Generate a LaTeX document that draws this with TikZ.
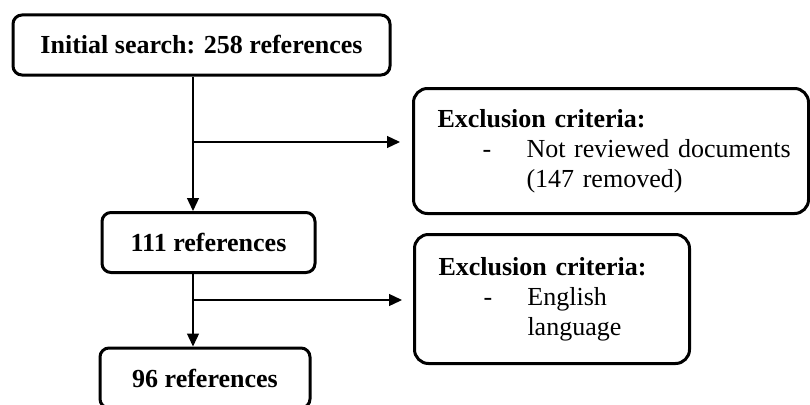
\documentclass[tikz,border=0pt]{standalone}
\usepackage{fontspec}
\setmainfont{Liberation Serif}
\usetikzlibrary{arrows.meta}

\newcommand{\critdash}[1]{\mbox{\hspace*{45pt}\makebox[44pt][l]{-}#1}}
\newcommand{\critgap}[1]{\mbox{\hspace*{89pt}#1}}

\begin{document}
\begin{tikzpicture}[x=1pt, y=-1pt,
        stage/.style={draw, line width=3pt, rounded corners=9pt, inner sep=0pt, minimum height=60pt,
            font=\fontsize{26}{30}\selectfont\bfseries},
        crit/.style={draw, line width=3pt, rounded corners=14pt, anchor=north west, align=left,
            inner xsep=24pt, font=\fontsize{26}{30}\selectfont},
        flow/.style={line width=1.3pt, -{Triangle[length=13pt,width=12pt]}}]
        \useasboundingbox (0,0) rectangle (810,404);
        \node[stage, minimum width=377pt] (search) at (201.5,45) {Initial search: 258 references};
        \node[stage, minimum width=213pt] (kept) at (208.5,242.5) {111 references};
        \node[stage, minimum width=210pt] (final) at (205,378) {96 references};
        \node[crit, text width=347pt, minimum height=125pt] (crit1) at (412,87)
            {\mbox{\bfseries Exclusion criteria:}\\ \critdash{Not reviewed documents}\\ \critgap{(147 removed)}};
        \node[crit, text width=227pt, minimum height=129pt] (crit2) at (413,233)
            {\mbox{\bfseries Exclusion criteria:}\\ \critdash{English}\\ \critgap{language}};
        % branch points on the main line
        \coordinate (fork1) at (193,142);
        \coordinate (fork2) at (193,300);
        \draw[flow] (search.south -| fork1) -- (kept.north -| fork1);
        \draw[flow] (kept.south -| fork2) -- (final.north -| fork2);
        \draw[flow, shorten >=12pt] (fork1) -- (crit1.west |- fork1);
        \draw[flow, shorten >=11pt] (fork2) -- (crit2.west |- fork2);
    \end{tikzpicture}
\end{document}
